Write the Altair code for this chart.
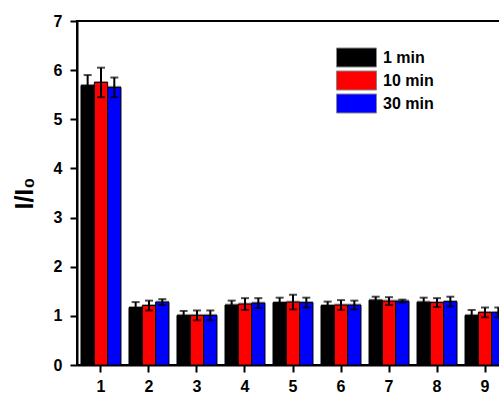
import altair as alt
import pandas as pd

groups = ["1", "2", "3", "4", "5", "6", "7", "8", "9"]
series = ["1 min", "10 min", "30 min"]
colors = ["#000000", "#ff0000", "#0000ff"]
v1 = [5.69, 1.17, 1.01, 1.22, 1.27, 1.21, 1.32, 1.28, 1.01]
v10 = [5.75, 1.21, 1.01, 1.24, 1.28, 1.22, 1.30, 1.27, 1.07]
v30 = [5.65, 1.28, 1.01, 1.26, 1.27, 1.22, 1.30, 1.29, 1.07]
e1 = [0.21, 0.11, 0.09, 0.09, 0.10, 0.08, 0.07, 0.09, 0.11]
e10 = [0.30, 0.10, 0.10, 0.12, 0.15, 0.10, 0.08, 0.09, 0.10]
e30 = [0.20, 0.06, 0.10, 0.10, 0.10, 0.09, 0.03, 0.10, 0.10]
y_ticks = [0, 0.5, 1, 1.5, 2, 2.5, 3, 3.5, 4, 4.5, 5, 5.5, 6, 6.5, 7]
y_max = 7

rows = []
for s, vals, errs in zip(series, [v1, v10, v30], [e1, e10, e30]):
    for g, v, e in zip(groups, vals, errs):
        rows.append({"group": g, "series": s, "value": v, "lo": v - e, "hi": v + e})
df = pd.DataFrame(rows)

FONT = "Liberation Sans"
W = 422
H = 344
x_scale = alt.Scale(paddingInner=0.167, paddingOuter=0.083, range=[0, 432])

x_enc = alt.X(
    "group:O",
    sort=groups,
    scale=x_scale,
    axis=alt.Axis(
        title=None, labelAngle=0, labelFont=FONT, labelFontWeight="bold",
        labelFontSize=16, labelColor="black", labelPadding=6,
        tickSize=7, tickWidth=2, tickColor="black",
        domainWidth=2, domainColor="black",
    ),
)
xo_enc = alt.XOffset("series:N", sort=series)

base = alt.Chart(df)

shadow = base.mark_bar(color="#a0a0a0", xOffset=-1.5, yOffset=-1.5).encode(
    x=x_enc, xOffset=xo_enc,
    y=alt.Y("value:Q"),
)

bars = base.mark_bar(stroke="black", strokeWidth=1).encode(
    x=x_enc, xOffset=xo_enc,
    y=alt.Y(
        "value:Q",
        scale=alt.Scale(domain=[0, y_max], nice=False),
        axis=alt.Axis(
            title="I/I₀", titleFont=FONT, titleFontWeight="bold", titleFontSize=25,
            titleColor="black", titlePadding=16,
            values=y_ticks, labelExpr="datum.value % 1 === 0 ? datum.label : ''",
            labelFont=FONT, labelFontWeight="bold", labelFontSize=16, labelColor="black",
            labelPadding=8, grid=False,
            tickSize={"condition": {"test": "datum.value % 1 === 0", "value": 7}, "value": 4},
            tickWidth=2, tickColor="black", domainWidth=2, domainColor="black",
        ),
    ),
    color=alt.Color(
        "series:N",
        sort=series,
        scale=alt.Scale(domain=series, range=colors),
        legend=alt.Legend(
            title=None, orient="none", legendX=269, legendY=26,
            symbolType="M-2,-0.95L2,-0.95L2,0.95L-2,0.95Z",
            symbolSize=400, symbolStrokeColor="#888888", symbolStrokeWidth=1,
            symbolOpacity=1,
            labelFont=FONT, labelFontWeight="bold", labelFontSize=16, labelColor="black",
            labelOffset=16, rowPadding=0, padding=0,
        ),
    ),
)

err = base.mark_rule(color="black", strokeWidth=2).encode(
    x=x_enc, xOffset=xo_enc,
    y=alt.Y("lo:Q"), y2="hi:Q",
)

caps = base.transform_fold(["lo", "hi"], as_=["kind", "pos"]).mark_tick(
    color="black", thickness=2, size=8
).encode(
    x=x_enc, xOffset=xo_enc,
    y=alt.Y("pos:Q"),
)

frame_top = alt.Chart(pd.DataFrame({"k": [0]})).mark_rect(
    color="black", opacity=1
).encode(
    y=alt.value(-1), y2=alt.value(1), x=alt.value(0), x2=alt.value(W),
)

chart = (
    alt.layer(shadow, bars, err, caps, frame_top)
    .properties(
        width=W, height=H,
        autosize=alt.AutoSizeParams(type="none"),
        padding={"left": 77, "top": 21, "right": 0, "bottom": 28},
        background="white",
    )
    .configure_view(stroke="black", strokeWidth=2, strokeDash=[W, H, W + H])
)

chart.save("out.html", embed_options={"renderer": "svg", "actions": False})
